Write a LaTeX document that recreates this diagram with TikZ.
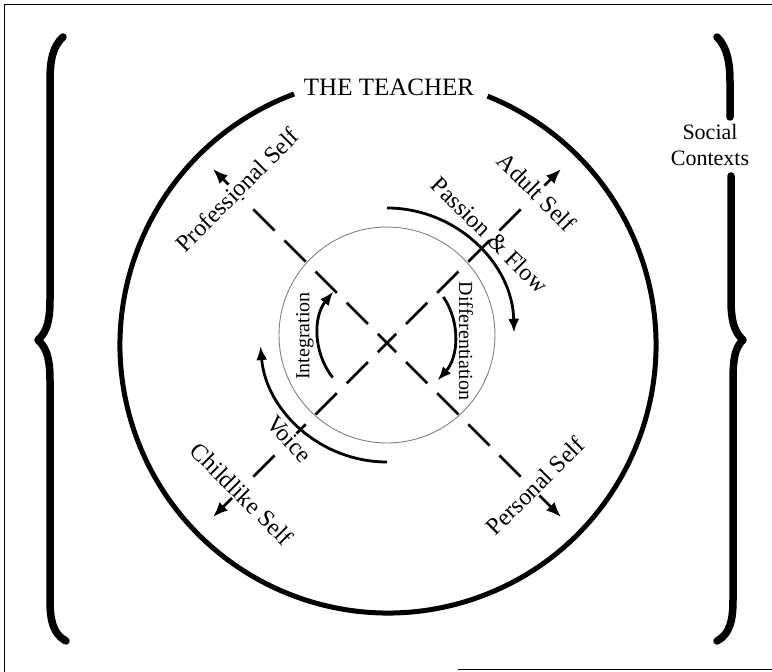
\documentclass[tikz,border=0pt]{standalone}
\usepackage{fontspec}
\setmainfont{Liberation Serif}
\usepackage{tikz}
\usetikzlibrary{arrows.meta}

\begin{document}
\begin{tikzpicture}[
    x=1pt, y=1pt,
    ray/.style={line width=2.8pt, dash pattern=on 30pt off 14pt, dash phase=17pt, -{Latex[length=15pt,width=12pt]}},
    flow/.style={line width=2.8pt, -{Latex[length=14pt,width=11pt]}},
    selflabel/.style={font=\fontsize{24}{28}\selectfont, fill=white, inner sep=1pt},
    inlabel/.style={font=\fontsize{20}{24}\selectfont, inner sep=0pt},
    brace/.style={line width=7.5pt, line cap=round, line join=round}
  ]
  \useasboundingbox (0,0) rectangle (772,672);
  % frame
  \draw[line width=1pt] (4,0) -- (4,667) -- (772,667);
  \draw[line width=1pt] (458,2) -- (772,2);

  % the teacher: outer circle, gap for the title
  \coordinate (c0) at (388,327);
  \draw[line width=5pt] (c0) ++(110.5:268) arc[start angle=110.5, end angle=428.2, radius=268];
  \node[font=\fontsize{25}{28}\selectfont] (teacher) at (389,585) {THE TEACHER};

  % inner circle
  \coordinate (c1) at (387,337);
  \draw[gray, line width=0.9pt] (c1) circle[radius=108];

  % the four selves
  \coordinate (mid) at (387,329);
  \coordinate (prof) at (213,503);
  \coordinate (adult) at (561,503);
  \coordinate (child) at (213,155);
  \coordinate (pers) at (561,155);
  \draw[ray] (mid) -- (prof);
  \draw[ray] (mid) -- (adult);
  \draw[ray] (mid) -- (child);
  \draw[ray] (mid) -- (pers);

  \node[selflabel, rotate=45] (proflab) at (237,482) {Professional Self};
  \node[selflabel, rotate=-45] (adultlab) at (537,480) {Adult Self};
  \node[selflabel, rotate=-45] (childlab) at (242,178) {Childlike Self};
  \node[selflabel, rotate=45] (perslab) at (535,186) {Personal Self};
  \node[selflabel, rotate=-48] (voicelab) at (289,233) {Voice};
  \node[selflabel, fill=none, rotate=-45] (passlab) at (490,437) {Passion \& Flow};
  \node[inlabel, rotate=90] (intlab) at (305,336) {Integration};
  \node[inlabel, rotate=-90] (difflab) at (466,331) {Differentiation};

  % movements
  \draw[flow] (c1) ++(90:127) arc[start angle=90, end angle=1, radius=127];
  \draw[flow] (c1) ++(270:127) arc[start angle=270, end angle=185, radius=127];
  \draw[flow] (c1) ++(218:69) arc[start angle=218, end angle=141, radius=69];
  \draw[flow] (c1) ++(34:68) arc[start angle=34, end angle=-42, radius=68];

  % social contexts
  \draw[brace] (63,635) .. controls (52,625) and (50,610) .. (50,590) -- (50,372)
    .. controls (50,345) and (44,338) .. (38,332) .. controls (44,326) and (50,319) .. (50,292)
    -- (50,72) .. controls (50,52) and (53,38) .. (66,31);
  \draw[brace] (717,635) .. controls (727,625) and (730,610) .. (730,590) -- (730,555);
  \draw[brace] (731,496) -- (731,372) .. controls (731,345) and (737,338) .. (743,332)
    .. controls (737,326) and (733,319) .. (733,292) -- (733,72) .. controls (733,52) and (730,38) .. (717,31);
  \node[font=\fontsize{22}{26}\selectfont, align=center] (social) at (710,527) {Social\\Contexts};
\end{tikzpicture}
\end{document}
